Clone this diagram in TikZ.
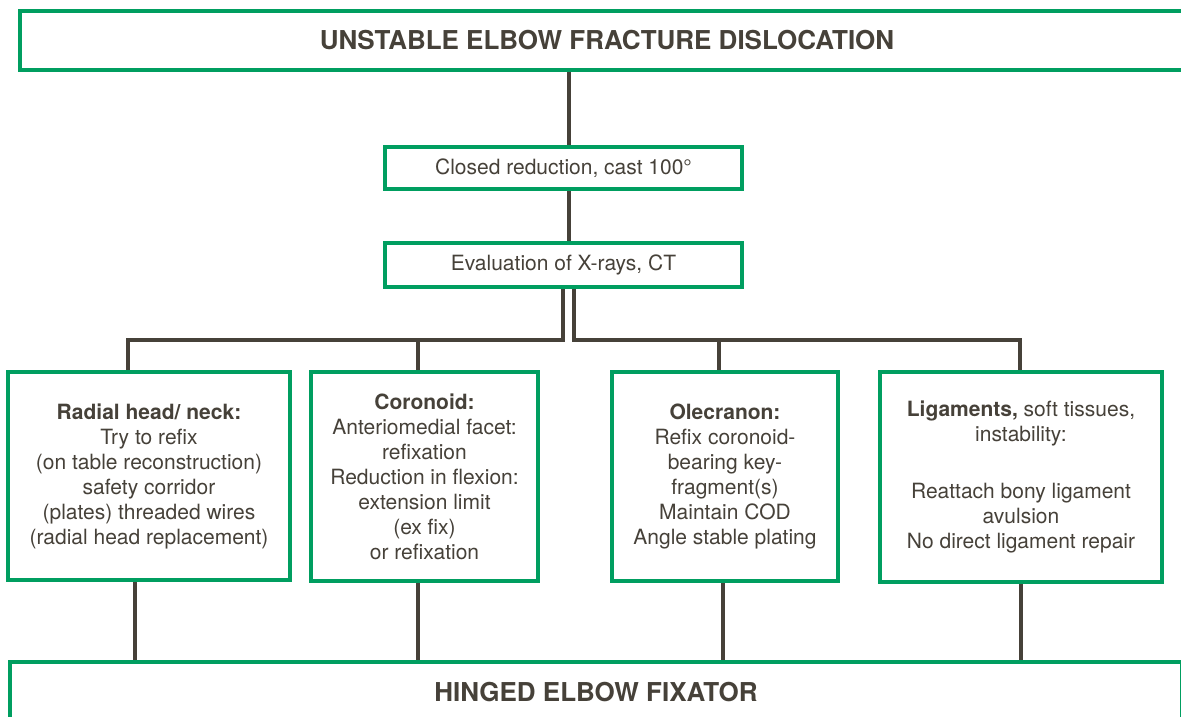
\documentclass[tikz,border=0pt]{standalone}
\usepackage{fontspec}
\setmainfont{TeX Gyre Heros}
\usetikzlibrary{calc}
\definecolor{boxgreen}{RGB}{0,158,96}
\definecolor{ink}{RGB}{70,65,57}
\begin{document}
\begin{tikzpicture}[x=1pt,y=1pt,
  box/.style={draw=boxgreen,line width=4pt,fill=white,inner sep=0pt,align=center,text=ink,font=\fontsize{21}{25}\selectfont},
  head/.style={box,font=\fontsize{26}{30}\selectfont\bfseries},
  link/.style={draw=ink,line width=3.5pt}]
\useasboundingbox (0,0) rectangle (1181,-716);
\clip (0,0) rectangle (1181,-716);

\node[head,minimum width=1174pt,minimum height=59pt] (top) at (607,-40.5) {UNSTABLE ELBOW FRACTURE DISLOCATION};
\node[box,minimum width=357pt,minimum height=42pt] (closed) at (563.5,-168) {Closed reduction, cast 100°};
\node[box,minimum width=357pt,minimum height=44pt] (eval) at (563.5,-265) {Evaluation of X-rays, CT};
\node[box,minimum width=282pt,minimum height=208pt] (radial) at (149,-476) {\textbf{Radial head/ neck:}\\Try to refix\\(on table reconstruction)\\safety corridor\\(plates) threaded wires\\(radial head replacement)};
\node[box,minimum width=227pt,minimum height=209pt] (coronoid) at (424.5,-476.5) {\textbf{Coronoid:}\\Anteriomedial facet:\\refixation\\Reduction in flexion:\\extension limit\\(ex fix)\\or refixation};
\node[box,minimum width=226pt,minimum height=209pt] (olecranon) at (725,-476.5) {\textbf{Olecranon:}\\Refix coronoid-\\bearing key-\\fragment(s)\\Maintain COD\\Angle stable plating};
\node[box,minimum width=282pt,minimum height=210pt] (lig) at (1021,-477) {\textbf{Ligaments,} soft tissues,\\instability:\\[32pt]Reattach bony ligament\\avulsion\\No direct ligament repair};
\node[head,minimum width=1172pt,minimum height=60pt] (bottom) at (596,-692) {HINGED ELBOW FIXATOR};

\draw[link] ([xshift=5.5pt]closed.north) -- ([xshift=5.5pt]closed.north |- top.south);
\draw[link] ([xshift=5.5pt]closed.south) -- ([xshift=5.5pt]eval.north);
\coordinate (jl) at (563,-340);
\coordinate (jr) at (574,-340);
\draw[link] ([xshift=-0.5pt]eval.south) -- (jl) -| ([xshift=-21pt]radial.north);
\draw[link] ([xshift=10.5pt]eval.south) -- (jr) -| ([xshift=-1pt]lig.north);
\draw[link] ([xshift=-6.5pt]coronoid.north) -- ([xshift=-6.5pt]coronoid.north |- jl);
\draw[link] ([xshift=-6pt]olecranon.north) -- ([xshift=-6pt]olecranon.north |- jr);
\draw[link] ([xshift=-14pt]radial.south) -- ([xshift=-14pt]radial.south |- bottom.north);
\draw[link] ([xshift=-6.5pt]coronoid.south) -- ([xshift=-6.5pt]coronoid.south |- bottom.north);
\draw[link] ([xshift=-2pt]olecranon.south) -- ([xshift=-2pt]olecranon.south |- bottom.north);
\draw[link] (lig.south) -- (lig.south |- bottom.north);
\end{tikzpicture}
\end{document}
